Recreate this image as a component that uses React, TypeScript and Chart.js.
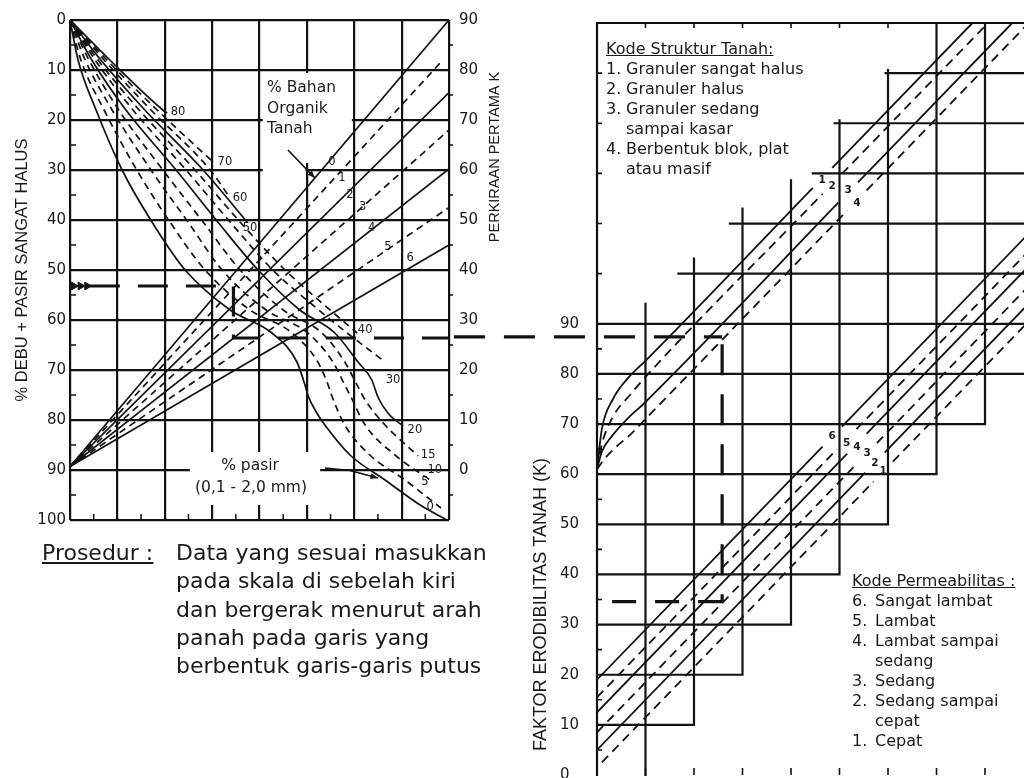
import React, { useEffect, useRef } from "react";
import { Chart, registerables } from "chart.js";

Chart.register(...registerables);

type P = [number, number];

// ================= LEFT PANEL (first approximation of K) =================
// x: grid columns 0..8, y: % silt + very fine sand (0 top .. 100 bottom)
const SILT_TICKS = [0, 10, 20, 30, 40, 50, 60, 70, 80, 90, 100];
const K1_TICKS = [-10, 0, 10, 20, 30, 40, 50, 60, 70, 80, 90];
const LEFT_COLUMNS = [0, 1, 2, 3, 4, 5, 6, 7, 8];

// % sand curves  [column, % silt+vfs]
const SAND_80: P[] = [[0, 0], [0.84, 8], [1.96, 18], [2.05, 18.6]];
const SAND_70: P[] = [[0, 0], [0.78, 8], [1.84, 18], [3.02, 28.4]];
const SAND_60: P[] = [[0, 0], [0.72, 8], [1.71, 18], [2.96, 30], [3.38, 35.6]];
const SAND_50: P[] = [[0, 0], [0.65, 8], [1.58, 18], [2.81, 30], [3.74, 40.4]];
const SAND_40: P[] = [[0, 0], [0.59, 8], [1.46, 18], [2.64, 30], [3.59, 40.4], [4.54, 50], [5.49, 58], [6.06, 62.6]];
const SAND_30: P[] = [[0, 0], [0.53, 8], [1.33, 18], [2.45, 30], [3.38, 40.4], [4.28, 50], [5.25, 58], [5.85, 62.6], [6.65, 68.4]];
const SAND_20: P[] = [[0, 0], [0.46, 8], [1.18, 18], [2.24, 30], [3.12, 40.4], [3.97, 50], [4.85, 58], [5.59, 62.6], [6.08, 68.4], [6.37, 72], [6.5, 75.4], [6.71, 78.6], [7.03, 81.2]];
const SAND_15: P[] = [[0, 0], [0.4, 8], [1.03, 18], [1.96, 30], [2.81, 40.4], [3.59, 50], [4.5, 58], [5.32, 62.6], [5.8, 68.4], [6.06, 73], [6.23, 76], [6.65, 81], [7.35, 87.2]];
const SAND_10: P[] = [[0, 0], [0.32, 8], [0.89, 18], [1.71, 30], [2.49, 40.4], [3.21, 50], [4.14, 58], [5.02, 62.6], [5.55, 68.4], [5.8, 73], [5.91, 75], [6.23, 81], [6.86, 87], [7.6, 92]];
const SAND_5: P[] = [[0, 0], [0.23, 8], [0.72, 18], [1.41, 30], [2.11, 40.4], [2.85, 50], [3.8, 58], [4.69, 62.6], [5.23, 68.4], [5.45, 73], [5.52, 75], [5.8, 81], [6.33, 87], [7.07, 92], [7.83, 97.6]];
const SAND_0: P[] = [[0, 0], [0.17, 8], [0.55, 18], [1.1, 30], [1.73, 40.4], [2.43, 50], [3.38, 58], [4.26, 62.6], [4.79, 68.4], [4.96, 73], [5.02, 75], [5.21, 78.6], [5.38, 81], [5.91, 87], [6.65, 92], [7.39, 97], [7.96, 100]];

const SAND_KEYS = ["80", "70", "60", "50", "40", "30", "20", "15", "10", "5", "0"];
const SAND_CURVES: P[][] = [SAND_80, SAND_70, SAND_60, SAND_50, SAND_40, SAND_30, SAND_20, SAND_15, SAND_10, SAND_5, SAND_0];
const SAND_LABEL_AT: P[] = [[2.28, 18.4], [3.27, 28.4], [3.59, 35.6], [3.8, 41.6], [6.23, 62], [6.82, 72], [7.28, 82], [7.56, 87], [7.7, 90], [7.49, 92.4], [7.6, 97.4]];
const SAND_DASHED = [false, true, true, false, true, true, false, true, true, true, false];

// % organic matter lines: from the apex on the left edge to the right edge
const OM_KEYS = ["0", "1", "2", "3", "4", "5", "6"];
const OM_APEX = 89.3;
const OM_END_COL = [8, 7.87, 8, 8, 8, 8, 8];
const OM_END_SILT = [0, 8, 14.5, 22, 29.8, 37.5, 45];
const OM_LABEL_AT: P[] = [[5.53, 28.4], [5.74, 31.6], [5.91, 35], [6.18, 37.4], [6.37, 41.6], [6.71, 45.4], [7.18, 47.6]];
const OM_DASHED = [false, true, false, true, false, true, false];

// worked example (thick dashed path)
const EX_SILT = 53.2;
const EX_SAND_COL = 3.45;
const EX_OM_SILT = 63.6; // first approximation K ~ 26
const EX_K_RIGHT = 87.4; // same level read on the right panel scale
const EX_PERM_COL = 2.58;
const EX_K = 34.6;
const EX_CHEVRONS = [0.08, 0.22, 0.36];

// ================= RIGHT PANEL (structure / permeability) =================
const K_TICKS = [0, 10, 20, 30, 40, 50, 60, 70, 80, 90];

const STRUCT_KEYS = ["1", "2", "3", "4"];
const STRUCT_1: P[][] = [[[0, 61], [0.1, 69], [0.33, 75], [0.68, 79.6], [1, 82.6], [4.45, 117.1]], [[4.85, 121.1], [7.74, 150]]];
const STRUCT_2: P[][] = [[[0, 61], [0.1, 66], [0.33, 71.5], [0.68, 75.8], [1, 79.4], [4.65, 115.9]], [[5.05, 119.9], [8.06, 150]]];
const STRUCT_3: P[][] = [[[0, 61], [0.1, 64.5], [0.3, 67.5], [0.6, 70.8], [1, 74.4], [4.98, 114.2]], [[5.38, 118.2], [8.56, 150]]];
const STRUCT_4: P[][] = [[[0, 61], [0.15, 63], [0.4, 65.5], [0.7, 68], [1, 71], [5.16, 112.6]], [[5.56, 116.6], [9, 151]]];
const STRUCT_LINES = [STRUCT_1, STRUCT_2, STRUCT_3, STRUCT_4];
const STRUCT_DASHED = [false, true, false, true];
const STRUCT_LABEL_AT: P[] = [[4.64, 118.6], [4.85, 117.4], [5.18, 116.6], [5.36, 114]];

const PERM_KEYS = ["6", "5", "4", "3", "2", "1"];
const PERM_6: P[][] = [[[0, 19], [4.65, 65.5]], [[5.05, 69.5], [9, 109]]];
const PERM_5: P[][] = [[[0, 15.5], [4.95, 65]], [[5.35, 69], [9, 105.5]]];
const PERM_4: P[][] = [[[0, 12.5], [5.16, 64.1]], [[5.56, 68.1], [9, 102.5]]];
const PERM_3: P[][] = [[[0, 8.5], [5.37, 62.2]], [[5.77, 66.2], [9, 98.5]]];
const PERM_2: P[][] = [[[0, 5], [5.53, 60.3]], [[5.93, 64.3], [9, 95]]];
const PERM_1: P[][] = [[[0.1, 2.5], [5.7, 58.5]], [[6.1, 62.5], [9, 91.5]]];
const PERM_LINES = [PERM_6, PERM_5, PERM_4, PERM_3, PERM_2, PERM_1];
const PERM_DASHED = [false, true, false, true, false, true];
const PERM_LABEL_AT: P[] = [[4.85, 67.6], [5.15, 66.2], [5.36, 65.4], [5.57, 64.2], [5.73, 62.2], [5.9, 60.6]];

// staircase grid: horizontal [K, fromCol, toCol], vertical [col, fromK, toK]
const STEP_H: number[][] = [
  [10, 0, 2], [20, 0, 3], [30, 0, 4], [40, 0, 5], [50, 0, 6], [60, 0, 7], [70, 0, 8], [80, 0, 9], [90, 0, 9],
  [100, 1.68, 9], [110, 2.74, 9], [120, 4.45, 9], [130, 4.9, 9], [140, 5.95, 9], [150, 0, 9],
];
const STEP_V: number[][] = [
  [0, 0, 150], [1, 0, 94], [2, 10, 103], [3, 20, 113], [4, 30, 118.6], [5, 40, 130.6], [6, 50, 140.6], [7, 60, 150], [8, 70, 150], [9, 80, 150],
];
const K_EDGE_TICKS = [5, 15, 25, 35, 45, 55, 65, 75, 85, 100, 110, 120, 130, 140];

// ================= styles =================
const INK = "#121212";
const TXT = "#1a1a1a";
const SANS = '"DejaVu Sans", sans-serif';
const LIB = '"Liberation Sans", Arial, sans-serif';

function ds(points: P[], dashed: boolean, o: { width?: number; dash?: number[]; smooth?: boolean; clip?: boolean } = {}) {
  const d: any = {
    data: points.map(([x, y]) => ({ x, y })),
    showLine: true,
    borderColor: INK,
    backgroundColor: INK,
    borderWidth: o.width ?? 1.7,
    borderDash: dashed ? o.dash ?? [7, 5] : [],
    pointRadius: 0,
    pointHoverRadius: 0,
    tension: 0,
    cubicInterpolationMode: o.smooth ? "monotone" : "default",
  };
  if (o.clip === false) d.clip = false;
  return d;
}

function arrow(ctx: CanvasRenderingContext2D, pts: P[], head = 8) {
  ctx.beginPath();
  ctx.moveTo(pts[0][0], pts[0][1]);
  for (let i = 1; i < pts.length; i++) ctx.lineTo(pts[i][0], pts[i][1]);
  ctx.stroke();
  const [x1, y1] = pts[pts.length - 2];
  const [x2, y2] = pts[pts.length - 1];
  const a = Math.atan2(y2 - y1, x2 - x1);
  ctx.beginPath();
  ctx.moveTo(x2, y2);
  ctx.lineTo(x2 - head * Math.cos(a - 0.38), y2 - head * Math.sin(a - 0.38));
  ctx.lineTo(x2 - head * Math.cos(a + 0.38), y2 - head * Math.sin(a + 0.38));
  ctx.closePath();
  ctx.fill();
}

function rotText(ctx: CanvasRenderingContext2D, s: string, x: number, y: number, font: string) {
  ctx.save();
  ctx.translate(x, y);
  ctx.rotate(-Math.PI / 2);
  ctx.font = font;
  ctx.textAlign = "center";
  ctx.textBaseline = "middle";
  ctx.fillText(s, 0, 0);
  ctx.restore();
}

// notes inside left panel (positions in data units)
const OM_NOTE = ["% Bahan", "Organik", "Tanah"];
const OM_NOTE_AT: P = [4.16, 13.6];
const OM_NOTE_ARROW: P[] = [[4.6, 26], [5.17, 31.6]];
const SAND_NOTE = ["% pasir", "(0,1 - 2,0 mm)"];
const SAND_NOTE_AT: P[] = [[3.8, 89.2], [3.82, 93.6]];
const SAND_NOTE_ARROW: P[] = [[5.38, 89.6], [5.91, 90.1], [6.5, 91.6]];
// blank areas behind the notes [col0, silt0, col1, silt1]
const LEFT_BLANKS = [[4.07, 10.6, 5.95, 28.6], [4.07, 28.6, 4.97, 31.5], [2.53, 86.4, 5.28, 97]];
const LEFT_MINOR = [5, 15, 25, 35, 45, 55, 65, 75, 85, 95];
const BOTTOM_MINOR = [0.5, 1.5, 2.5, 3.5, 4.5, 5.5, 6.5, 7.5];

function leftConfig(): any {
  const datasets: any[] = [];
  SAND_CURVES.forEach((c, i) => datasets.push(ds(c, SAND_DASHED[i], { smooth: true, width: 1.7 })));
  OM_KEYS.forEach((_, i) =>
    datasets.push(ds([[0, OM_APEX], [OM_END_COL[i], OM_END_SILT[i]]], OM_DASHED[i], { width: 1.7 }))
  );
  const exDash = [30, 18];
  datasets.push(ds([[0.42, EX_SILT], [EX_SAND_COL, EX_SILT], [EX_SAND_COL, EX_OM_SILT], [8, EX_OM_SILT]], true, { width: 3.2, dash: exDash }));
  datasets.push({
    data: EX_CHEVRONS.map((x) => ({ x, y: EX_SILT })),
    showLine: false,
    pointStyle: "triangle",
    rotation: 90,
    pointRadius: 4.5,
    pointHoverRadius: 4.5,
    backgroundColor: INK,
    borderColor: INK,
    borderWidth: 1,
  });

  const decor = {
    id: "leftDecor",
    beforeDatasetsDraw(chart: any) {
      const { ctx } = chart;
      const X = (v: number) => chart.scales.x.getPixelForValue(v);
      const Y = (v: number) => chart.scales.y.getPixelForValue(v);
      ctx.save();
      ctx.fillStyle = "#fff";
      for (const [c0, d0, c1, d1] of LEFT_BLANKS) ctx.fillRect(X(c0), Y(d0), X(c1) - X(c0), Y(d1) - Y(d0));
      ctx.strokeStyle = INK;
      ctx.lineWidth = 1.5;
      ctx.beginPath();
      for (const d of LEFT_MINOR) {
        ctx.moveTo(X(0), Y(d));
        ctx.lineTo(X(0) + 6, Y(d));
        ctx.moveTo(X(8), Y(d));
        ctx.lineTo(X(8) + 4, Y(d));
      }
      for (const c of BOTTOM_MINOR) {
        ctx.moveTo(X(c), Y(100));
        ctx.lineTo(X(c), Y(100) - 6);
      }
      ctx.stroke();
      ctx.restore();
    },
    afterDatasetsDraw(chart: any) {
      const { ctx, chartArea } = chart;
      const X = (v: number) => chart.scales.x.getPixelForValue(v);
      const Y = (v: number) => chart.scales.y.getPixelForValue(v);
      ctx.save();
      ctx.fillStyle = TXT;
      ctx.strokeStyle = INK;
      ctx.textAlign = "center";
      ctx.textBaseline = "middle";
      ctx.font = `11.5px ${SANS}`;
      SAND_KEYS.forEach((k, i) => ctx.fillText(k, X(SAND_LABEL_AT[i][0]), Y(SAND_LABEL_AT[i][1])));
      OM_KEYS.forEach((k, i) => ctx.fillText(k, X(OM_LABEL_AT[i][0]), Y(OM_LABEL_AT[i][1])));
      ctx.font = `15.5px ${SANS}`;
      ctx.textAlign = "left";
      OM_NOTE.forEach((s, i) => ctx.fillText(s, X(OM_NOTE_AT[0]), Y(OM_NOTE_AT[1] + i * 4.1)));
      ctx.textAlign = "center";
      SAND_NOTE.forEach((s, i) => ctx.fillText(s, X(SAND_NOTE_AT[i][0]), Y(SAND_NOTE_AT[i][1])));
      ctx.lineWidth = 1.7;
      arrow(ctx, OM_NOTE_ARROW.map(([c, d]) => [X(c), Y(d)] as P));
      arrow(ctx, SAND_NOTE_ARROW.map(([c, d]) => [X(c), Y(d)] as P));
      rotText(ctx, "% DEBU + PASIR SANGAT HALUS", chartArea.left - 48, (chartArea.top + chartArea.bottom) / 2, `16.5px ${LIB}`);
      rotText(ctx, "PERKIRAAN PERTAMA K", chartArea.right + 46, chartArea.top + 137, `14.5px ${LIB}`);
      ctx.restore();
    },
  };

  const tickFont = { family: SANS, size: 15 };
  return {
    type: "scatter",
    data: { datasets },
    plugins: [decor],
    options: {
      animation: false,
      responsive: false,
      devicePixelRatio: 1,
      events: [],
      layout: { padding: { top: 20, bottom: 20, left: 0, right: 0 } },
      plugins: { legend: { display: false }, tooltip: { enabled: false } },
      scales: {
        x: {
          type: "linear",
          min: 0,
          max: 8,
          afterBuildTicks: (s: any) => { s.ticks = LEFT_COLUMNS.map((value) => ({ value })); },
          ticks: { display: false },
          grid: { color: INK, lineWidth: 2.2, drawTicks: false },
          border: { display: false },
          afterFit: (s: any) => { s.height = 0; },
        },
        y: {
          type: "linear",
          position: "left",
          reverse: true,
          min: 0,
          max: 100,
          afterBuildTicks: (s: any) => { s.ticks = SILT_TICKS.map((value) => ({ value })); },
          ticks: { padding: 4, color: TXT, font: tickFont },
          grid: { color: INK, lineWidth: 2.2, drawTicks: false },
          border: { display: false },
          afterFit: (s: any) => { s.width = 70; },
        },
        k: {
          type: "linear",
          position: "right",
          min: -10,
          max: 90,
          afterBuildTicks: (s: any) => { s.ticks = K1_TICKS.map((value) => ({ value })); },
          ticks: { padding: 10, color: TXT, font: tickFont, callback: (v: number) => (v < 0 ? "" : String(v)) },
          grid: { display: false, drawTicks: false },
          border: { display: false },
          afterFit: (s: any) => { s.width = 91; },
        },
      },
    },
  };
}

function rightConfig(): any {
  const datasets: any[] = [];
  STRUCT_LINES.forEach((segs, i) => segs.forEach((s) => datasets.push(ds(s, STRUCT_DASHED[i], { smooth: true, width: 1.8, dash: [9, 6] }))));
  PERM_LINES.forEach((segs, i) => segs.forEach((s) => datasets.push(ds(s, PERM_DASHED[i], { width: 1.8, dash: [9, 6] }))));
  const exDash = [31, 19];
  datasets.push(ds([[-2.95, EX_K_RIGHT], [EX_PERM_COL, EX_K_RIGHT]], true, { width: 3.2, dash: exDash, clip: false }));
  datasets.push(ds([[EX_PERM_COL, EX_K_RIGHT - 1.5], [EX_PERM_COL, EX_K]], true, { width: 3.2, dash: exDash }));
  datasets.push(ds([[EX_PERM_COL, EX_K], [0, EX_K]], true, { width: 3.2, dash: [24, 19] }));

  const decor = {
    id: "rightDecor",
    beforeDatasetsDraw(chart: any) {
      const { ctx } = chart;
      const X = (v: number) => chart.scales.x.getPixelForValue(v);
      const Y = (v: number) => chart.scales.y.getPixelForValue(v);
      ctx.save();
      ctx.strokeStyle = INK;
      ctx.lineWidth = 2.2;
      ctx.lineCap = "square";
      ctx.beginPath();
      for (const [k, c0, c1] of STEP_H) {
        ctx.moveTo(X(c0), Y(k));
        ctx.lineTo(X(c1), Y(k));
      }
      for (const [c, k0, k1] of STEP_V) {
        ctx.moveTo(X(c), Y(k0));
        ctx.lineTo(X(c), Y(k1));
      }
      ctx.stroke();
      ctx.lineWidth = 1.6;
      ctx.lineCap = "butt";
      ctx.beginPath();
      for (const k of K_EDGE_TICKS) {
        ctx.moveTo(X(0), Y(k));
        ctx.lineTo(X(0) + 5, Y(k));
      }
      for (const c of [1, 2, 3, 4, 5, 6]) {
        ctx.moveTo(X(c), Y(150));
        ctx.lineTo(X(c), Y(150) + 5);
      }
      for (const c of [1, 2, 3, 4, 5, 6, 7, 8]) {
        ctx.moveTo(X(c), Y(0));
        ctx.lineTo(X(c), Y(0) - 7);
      }
      ctx.stroke();
      ctx.restore();
    },
    afterDatasetsDraw(chart: any) {
      const { ctx, chartArea } = chart;
      const X = (v: number) => chart.scales.x.getPixelForValue(v);
      const Y = (v: number) => chart.scales.y.getPixelForValue(v);
      ctx.save();
      ctx.fillStyle = TXT;
      ctx.textBaseline = "middle";
      ctx.textAlign = "center";
      ctx.font = `bold 10.5px ${SANS}`;
      STRUCT_KEYS.forEach((k, i) => ctx.fillText(k, X(STRUCT_LABEL_AT[i][0]), Y(STRUCT_LABEL_AT[i][1])));
      PERM_KEYS.forEach((k, i) => ctx.fillText(k, X(PERM_LABEL_AT[i][0]), Y(PERM_LABEL_AT[i][1])));
      ctx.font = `15px ${SANS}`;
      ctx.textAlign = "left";
      K_TICKS.forEach((k) => ctx.fillText(String(k), chartArea.left - 37, Y(k)));
      rotText(ctx, "FAKTOR ERODIBILITAS TANAH (K)", chartArea.left - 56, Y(34), `18px ${LIB}`);
      ctx.restore();
    },
  };

  return {
    type: "scatter",
    data: { datasets },
    plugins: [decor],
    options: {
      animation: false,
      responsive: false,
      devicePixelRatio: 1,
      events: [],
      layout: { padding: { top: 23, bottom: 3, left: 147, right: 16.5 } },
      plugins: { legend: { display: false }, tooltip: { enabled: false } },
      scales: {
        x: { type: "linear", min: 0, max: 9, display: false },
        y: { type: "linear", min: 0, max: 150, display: false },
      },
    },
  };
}

const STRUCT_TEXT: [string, string][] = [
  ["1.", "Granuler sangat halus"],
  ["2.", "Granuler halus"],
  ["3.", "Granuler sedang"],
  ["", "sampai kasar"],
  ["4.", "Berbentuk blok, plat"],
  ["", "atau masif"],
];
const PERM_TEXT: [string, string][] = [
  ["6.", "Sangat lambat"],
  ["5.", "Lambat"],
  ["4.", "Lambat sampai"],
  ["", "sedang"],
  ["3.", "Sedang"],
  ["2.", "Sedang sampai"],
  ["", "cepat"],
  ["1.", "Cepat"],
];
const PROSEDUR = [
  "Data yang sesuai masukkan",
  "pada skala di sebelah kiri",
  "dan bergerak menurut arah",
  "panah pada garis yang",
  "berbentuk garis-garis putus",
];

function Legend({ title, rows, left, top, numW }: { title: string; rows: [string, string][]; left: number; top: number; numW: number }) {
  return (
    <div style={{ position: "absolute", left, top, font: `16px ${SANS}`, lineHeight: "20px", color: TXT, whiteSpace: "nowrap" }}>
      <div style={{ textDecoration: "underline" }}>{title}</div>
      {rows.map(([n, t], i) => (
        <div key={i} style={{ display: "flex" }}>
          <span style={{ width: numW, display: "inline-block" }}>{n}</span>
          <span>{t}</span>
        </div>
      ))}
    </div>
  );
}

export default function App() {
  const leftRef = useRef<HTMLCanvasElement>(null);
  const rightRef = useRef<HTMLCanvasElement>(null);
  useEffect(() => {
    const a = new Chart(leftRef.current as HTMLCanvasElement, leftConfig());
    const b = new Chart(rightRef.current as HTMLCanvasElement, rightConfig());
    return () => {
      a.destroy();
      b.destroy();
    };
  }, []);
  return (
    <div style={{ position: "fixed", left: 0, top: 0, width: 1024, height: 778, overflow: "hidden", background: "#fff" }}>
      <canvas ref={leftRef} width={540} height={540} style={{ position: "absolute", left: 0, top: 0, width: 540, height: 540 }} />
      <canvas ref={rightRef} width={600} height={778} style={{ position: "absolute", left: 450, top: 0, width: 600, height: 778 }} />
      <Legend title="Kode Struktur Tanah:" rows={STRUCT_TEXT} left={606} top={39} numW={20} />
      <Legend title="Kode Permeabilitas :" rows={PERM_TEXT} left={852} top={571} numW={23} />
      <div style={{ position: "absolute", left: 42, top: 539, font: `22px ${SANS}`, lineHeight: "28.3px", color: TXT, textDecoration: "underline", whiteSpace: "nowrap" }}>
        Prosedur :
      </div>
      <div style={{ position: "absolute", left: 176, top: 539, font: `22px ${SANS}`, lineHeight: "28.3px", color: TXT, whiteSpace: "nowrap" }}>
        {PROSEDUR.map((s, i) => (
          <div key={i}>{s}</div>
        ))}
      </div>
    </div>
  );
}
